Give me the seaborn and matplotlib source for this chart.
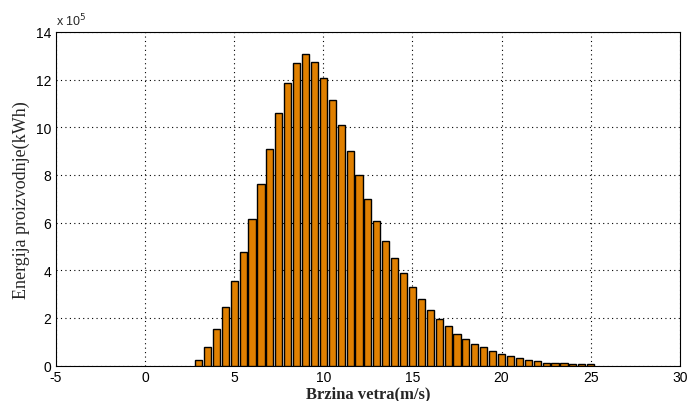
import numpy as np
import pandas as pd
import matplotlib
matplotlib.use('Agg')
import matplotlib.pyplot as plt
import seaborn as sns

# wind speed bins (m/s)
speed = [3.0, 3.5, 4.0, 4.5, 5.0, 5.5, 6.0, 6.5, 7.0, 7.5, 8.0, 8.5, 9.0, 9.5,
         10.0, 10.5, 11.0, 11.5, 12.0, 12.5, 13.0, 13.5, 14.0, 14.5, 15.0, 15.5,
         16.0, 16.5, 17.0, 17.5, 18.0, 18.5, 19.0, 19.5, 20.0, 20.5, 21.0, 21.5,
         22.0, 22.5, 23.0, 23.5, 24.0, 24.5, 25.0]

# energy production (x 10^5 kWh)
energy = [0.24, 0.77, 1.55, 2.48, 3.54, 4.78, 6.17, 7.62, 9.10, 10.59, 11.87, 12.71,
          13.06, 12.76, 12.06, 11.13, 10.08, 9.00, 7.99, 6.98, 6.08, 5.24, 4.50, 3.87,
          3.31, 2.78, 2.35, 1.97, 1.65, 1.34, 1.12, 0.92, 0.77, 0.61, 0.50, 0.42,
          0.31, 0.25, 0.21, 0.13, 0.13, 0.10, 0.07, 0.06, 0.05]

df = pd.DataFrame({'speed': speed, 'energy': energy})

sns.set_style('white')
plt.rcParams['font.family'] = ['Liberation Sans', 'DejaVu Sans']
plt.rcParams['axes.unicode_minus'] = False

fig = plt.figure(figsize=(6.87, 4.02), dpi=100)
ax = fig.add_axes([0.0815, 0.088, 0.908, 0.83])

sns.barplot(data=df, x='speed', y='energy', native_scale=True, width=0.8,
            color='#e08000', saturation=1, edgecolor='black', linewidth=1,
            ax=ax, zorder=3)

ax.set_xlim(-5, 30)
ax.set_ylim(0, 14)
ax.set_xticks(range(-5, 31, 5))
ax.set_yticks(range(0, 15, 2))
ax.grid(True, linestyle=(0, (1, 3)), color='black', linewidth=0.8, zorder=0)
ax.set_axisbelow(True)
ax.tick_params(direction='in', length=4, labelsize=10, colors='black')
ax.tick_params(axis='x', pad=3)
for s in ax.spines.values():
    s.set_visible(True)
    s.set_color('black')
    s.set_linewidth(0.8)

ax.set_xlabel('Brzina vetra(m/s)', family='Liberation Serif', fontweight='bold',
              fontsize=12, va='center')
ax.xaxis.set_label_coords(0.5, -0.083)
ax.set_ylabel('Energija proizvodnje(kWh)', family='Liberation Serif',
              fontsize=13, labelpad=4)
ax.text(0.0, 1.012, 'x 10$^5$', transform=ax.transAxes, fontsize=9,
        ha='left', va='bottom')

fig.savefig('out.png', dpi=100)
